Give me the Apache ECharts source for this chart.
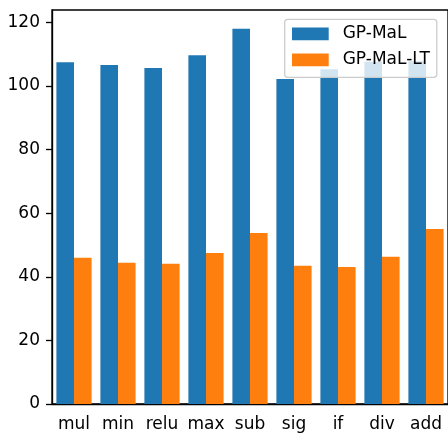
<!DOCTYPE html>
<html>
<head>
<meta charset="utf-8">
<script src="https://cdn.jsdelivr.net/npm/echarts@6/dist/echarts.min.js"></script>
<style>
  html, body { margin: 0; padding: 0; background: #fff; }
  #chart { width: 448px; height: 433px; }
</style>
</head>
<body>
<div id="chart"></div>
<script>
// Operator names along the x axis
const categories = ['mul', 'min', 'relu', 'max', 'sub', 'sig', 'if', 'div', 'add'];
// Values per operator for each method
const gpMaL = [107.5, 106.6, 105.7, 109.7, 118.0, 102.2, 105.3, 107.6, 107.8];
const gpMaLLT = [46.0, 44.4, 44.1, 47.5, 53.8, 43.5, 43.1, 46.3, 55.0];
// Labelled y ticks
const yTicks = [0, 20, 40, 60, 80, 100, 120];

const FONT = 'DejaVu Sans';
const FS = 17;
const LW = 1.33;

const chart = echarts.init(document.getElementById('chart'), null, { renderer: 'canvas' });

chart.setOption({
  animation: false,
  backgroundColor: '#ffffff',
  textStyle: { fontFamily: FONT },
  grid: {
    left: 52, right: -1, top: 10, bottom: 28.7,
    show: true, borderColor: '#000', borderWidth: LW, backgroundColor: 'transparent'
  },
  legend: {
    orient: 'vertical',
    left: 284.7, top: 19.3,
    padding: [6, 7, 9, 7.3],
    itemWidth: 36.7, itemHeight: 12.7, itemGap: 9,
    backgroundColor: 'rgba(255,255,255,0.8)',
    borderColor: '#cccccc', borderWidth: 1.3, borderRadius: 3,
    icon: 'rect',
    textStyle: { fontFamily: FONT, fontSize: FS, color: '#000', lineHeight: 17, padding: [0, 0, 0, 9] },
    data: ['GP-MaL', 'GP-MaL-LT']
  },
  xAxis: {
    type: 'category',
    data: categories,
    boundaryGap: true,
    axisLine: { lineStyle: { color: '#000', width: LW } },
    axisTick: { alignWithLabel: true, length: 6, lineStyle: { color: '#000', width: LW } },
    axisLabel: { fontFamily: FONT, fontSize: FS, color: '#000', margin: 12, interval: 0 },
    splitLine: { show: false }
  },
  yAxis: {
    type: 'value',
    min: 0, max: 123.9, interval: 20,
    axisLine: { show: true, lineStyle: { color: '#000', width: LW } },
    axisTick: { show: true, length: 6, customValues: yTicks, lineStyle: { color: '#000', width: LW } },
    axisLabel: { fontFamily: FONT, fontSize: FS, color: '#000', margin: 12, customValues: yTicks },
    splitLine: { show: false }
  },
  series: [
    {
      name: 'GP-MaL', type: 'bar', data: gpMaL,
      barWidth: 17.6, barGap: '0%',
      itemStyle: { color: '#1f77b4' }
    },
    {
      name: 'GP-MaL-LT', type: 'bar', data: gpMaLLT,
      barWidth: 17.6, barGap: '0%',
      itemStyle: { color: '#ff7f0e' }
    }
  ]
});
</script>
</body>
</html>
